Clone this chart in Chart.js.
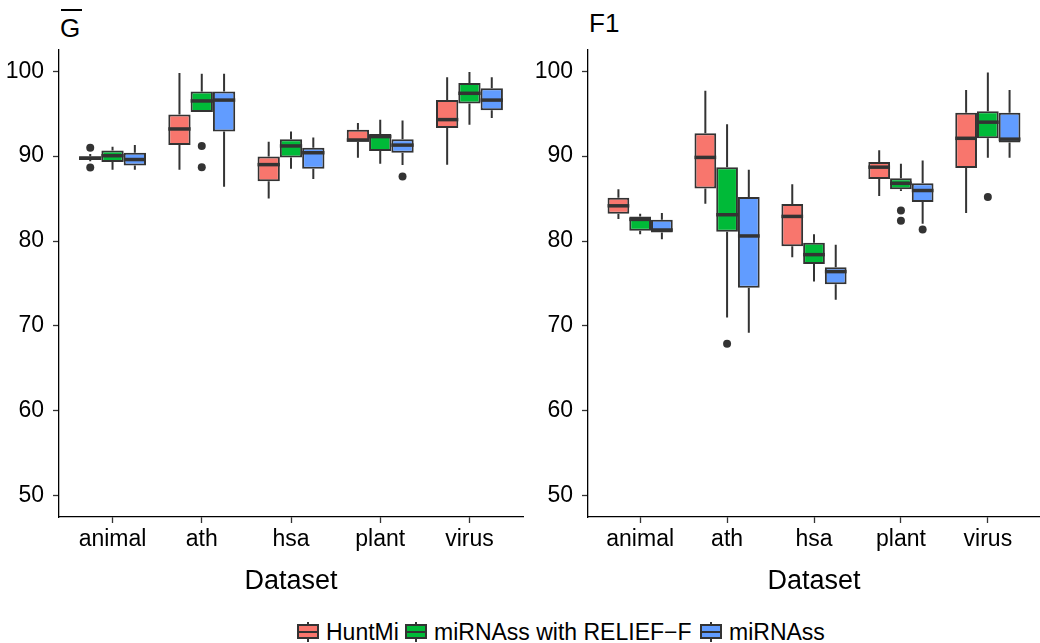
<!DOCTYPE html>
<html>
<head>
<meta charset="utf-8">
<script src="https://cdn.jsdelivr.net/npm/chart.js@4"></script>
<style>
  body { margin: 0; width: 1040px; height: 643px; position: relative; background: #fff; overflow: hidden;
         font-family: 'Liberation Sans', Arial, sans-serif; color: #000; }
  .panel { position: absolute; top: 0; }
  .title { position: absolute; font-size: 26px; line-height: 1; }
  .bar { position: absolute; height: 2px; background: #000; }
  .leg { position: absolute; top: 622px; height: 20px; display: flex; align-items: center; font-size: 23px; white-space: nowrap; }
  .icon { position: relative; display: inline-block; width: 22px; height: 20px; margin-right: 7px; }
  .icon .wh { position: absolute; left: 10px; width: 2px; top: 0; bottom: 0; background: #333; }
  .icon .bx { position: absolute; left: 0; top: 2px; width: 22px; height: 15px; box-sizing: border-box; border: 2px solid #333; }
  .icon .md { position: absolute; left: 0; right: 0; top: 8.5px; height: 2.5px; background: #333; }
</style>
</head>
<body>
<div class="title" style="left:60px;top:15px">G</div>
<div class="bar" style="left:61px;top:9px;width:21px"></div>
<div class="title" style="left:589px;top:10px">F1</div>

<div class="panel" style="left:0;width:525px;height:605px"><canvas id="chartG" width="525" height="605"></canvas></div>
<div class="panel" style="left:525px;width:515px;height:605px"><canvas id="chartF" width="515" height="605"></canvas></div>

<div class="leg" style="left:297px"><span class="icon"><span class="wh"></span><span class="bx" style="background:#F8766D"></span><span class="md"></span></span>HuntMi</div>
<div class="leg" style="left:405px"><span class="icon"><span class="wh"></span><span class="bx" style="background:#00BA38"></span><span class="md"></span></span>miRNAss with RELIEF−F</div>
<div class="leg" style="left:700px"><span class="icon"><span class="wh"></span><span class="bx" style="background:#619CFF"></span><span class="md"></span></span>miRNAss</div>

<script>
const categories = ['animal', 'ath', 'hsa', 'plant', 'virus'];
const seriesNames = ['HuntMi', 'miRNAss with RELIEF\u2212F', 'miRNAss'];
const seriesColors = ['#F8766D', '#00BA38', '#619CFF'];
const yTicks = [50, 60, 70, 80, 90, 100];

// each row: [lower whisker, Q1, median, Q3, upper whisker]
// G-bar panel
const gHuntMi = [
  [89.4, 89.55, 89.75, 90.0, 90.25],
  [88.4, 91.3, 93.2, 94.9, 99.8],
  [85.0, 87.05, 89.0, 89.95, 91.7],
  [89.8, 91.7, 91.9, 93.1, 93.9],
  [89.0, 93.3, 94.3, 96.6, 99.3]
];
const gHuntMiOut = [[91.0, 88.65], [], [], [], []];

const gRelief = [
  [88.4, 89.3, 90.05, 90.65, 91.1],
  [95.2, 95.2, 96.5, 97.6, 99.7],
  [88.5, 89.85, 91.2, 92.0, 92.9],
  [89.1, 90.6, 92.3, 92.6, 94.3],
  [93.7, 96.2, 97.4, 98.6, 99.9]
];
const gReliefOut = [[], [91.2, 88.7], [], [], []];

const gMirnass = [
  [88.4, 88.9, 89.6, 90.4, 91.3],
  [86.4, 92.9, 96.6, 97.6, 99.7],
  [87.3, 88.5, 90.4, 91.0, 92.2],
  [88.95, 90.4, 91.3, 92.0, 94.2],
  [94.5, 95.4, 96.6, 98.0, 99.3]
];
const gMirnassOut = [[], [], [], [87.6], []];

// F1 panel
const fHuntMi = [
  [82.6, 83.2, 84.15, 85.1, 86.1],
  [84.4, 86.2, 89.85, 92.7, 97.7],
  [78.1, 79.4, 82.9, 84.35, 86.7],
  [85.3, 87.3, 88.7, 89.3, 90.7],
  [83.3, 88.6, 92.1, 95.1, 97.8]
];
const fHuntMiOut = [[], [], [], [], []];

const fRelief = [
  [80.8, 81.2, 82.55, 82.9, 83.2],
  [71.0, 81.1, 83.1, 88.7, 93.75],
  [75.25, 77.3, 78.4, 79.8, 80.8],
  [85.9, 86.1, 86.8, 87.4, 89.1],
  [89.8, 92.1, 94.0, 95.3, 99.85]
];
const fReliefOut = [[], [67.9], [], [83.6, 82.4], [85.2]];

const fMirnass = [
  [80.2, 81.0, 81.3, 82.5, 83.3],
  [69.2, 74.5, 80.6, 85.2, 88.4],
  [73.1, 74.9, 76.4, 76.9, 79.55],
  [82.05, 84.6, 85.95, 86.8, 89.5],
  [89.8, 91.6, 92.0, 95.1, 97.8]
];
const fMirnassOut = [[], [], [], [81.35], []];

Chart.defaults.font.family = "'Liberation Sans', Arial, sans-serif";
Chart.defaults.color = '#000';

// whiskers, medians and outliers on top of the floating-bar boxes
const boxplotPlugin = {
  id: 'boxplot',
  afterDatasetsDraw(chart) {
    const ctx = chart.ctx;
    const y = chart.scales.y;
    chart.data.datasets.forEach((ds, d) => {
      const meta = chart.getDatasetMeta(d);
      meta.data.forEach((bar, i) => {
        const [lo, q1, med, q3, hi] = ds.stats[i];
        const x = bar.x, half = bar.width / 2;
        ctx.save();
        ctx.strokeStyle = '#333';
        ctx.lineWidth = 2;
        ctx.beginPath();
        ctx.moveTo(x, y.getPixelForValue(hi));
        ctx.lineTo(x, y.getPixelForValue(q3));
        ctx.moveTo(x, y.getPixelForValue(q1));
        ctx.lineTo(x, y.getPixelForValue(lo));
        ctx.stroke();
        ctx.lineWidth = 3.5;
        ctx.beginPath();
        ctx.moveTo(x - half, y.getPixelForValue(med));
        ctx.lineTo(x + half, y.getPixelForValue(med));
        ctx.stroke();
        ctx.fillStyle = '#333';
        ds.outliers[i].forEach(v => {
          ctx.beginPath();
          ctx.arc(x, y.getPixelForValue(v), 4, 0, Math.PI * 2);
          ctx.fill();
        });
        ctx.restore();
      });
    });
  }
};

function makeDatasets(statsList, outList) {
  return statsList.map((stats, s) => ({
    label: seriesNames[s],
    data: stats.map((r, i) => ({ x: i, y: [r[1], r[3]] })),
    stats: stats,
    outliers: outList[s],
    backgroundColor: seriesColors[s],
    borderColor: '#333',
    borderWidth: 2,
    borderSkipped: false,
    categoryPercentage: 0.75,
    barPercentage: 1
  }));
}

function makeChart(id, statsList, outList, yWidth, rightPad) {
  return new Chart(document.getElementById(id), {
    type: 'bar',
    data: { datasets: makeDatasets(statsList, outList) },
    plugins: [boxplotPlugin],
    options: {
      responsive: false,
      animation: false,
      layout: { padding: { top: 50, right: rightPad, bottom: 0, left: 0 } },
      plugins: { legend: { display: false }, tooltip: { enabled: false } },
      scales: {
        x: {
          type: 'linear',
          min: -0.6,
          max: 4.6,
          offset: false,
          afterBuildTicks: s => { s.ticks = categories.map((c, i) => ({ value: i })); },
          afterFit: s => { s.height = 88; },
          ticks: { callback: v => categories[v], font: { size: 23 }, padding: 3, maxRotation: 0, autoSkip: false },
          grid: { offset: false, drawOnChartArea: false, tickLength: 6, tickColor: '#333', tickWidth: 1.3 },
          border: { color: '#000', width: 1.3 },
          title: { display: true, text: 'Dataset', font: { size: 27 }, padding: { top: 0, bottom: 7 } }
        },
        y: {
          min: 47.5,
          max: 102.5,
          afterBuildTicks: s => { s.ticks = yTicks.map(v => ({ value: v })); },
          afterFit: s => { s.width = yWidth; },
          ticks: { font: { size: 23 }, padding: 9 },
          grid: { drawOnChartArea: false, tickLength: 6, tickColor: '#333', tickWidth: 1.3 },
          border: { color: '#000', width: 1.3 }
        }
      }
    }
  });
}

makeChart('chartG', [gHuntMi, gRelief, gMirnass], [gHuntMiOut, gReliefOut, gMirnassOut], 59, 2);
makeChart('chartF', [fHuntMi, fRelief, fMirnass], [fHuntMiOut, fReliefOut, fMirnassOut], 63, 0);
</script>
</body>
</html>
